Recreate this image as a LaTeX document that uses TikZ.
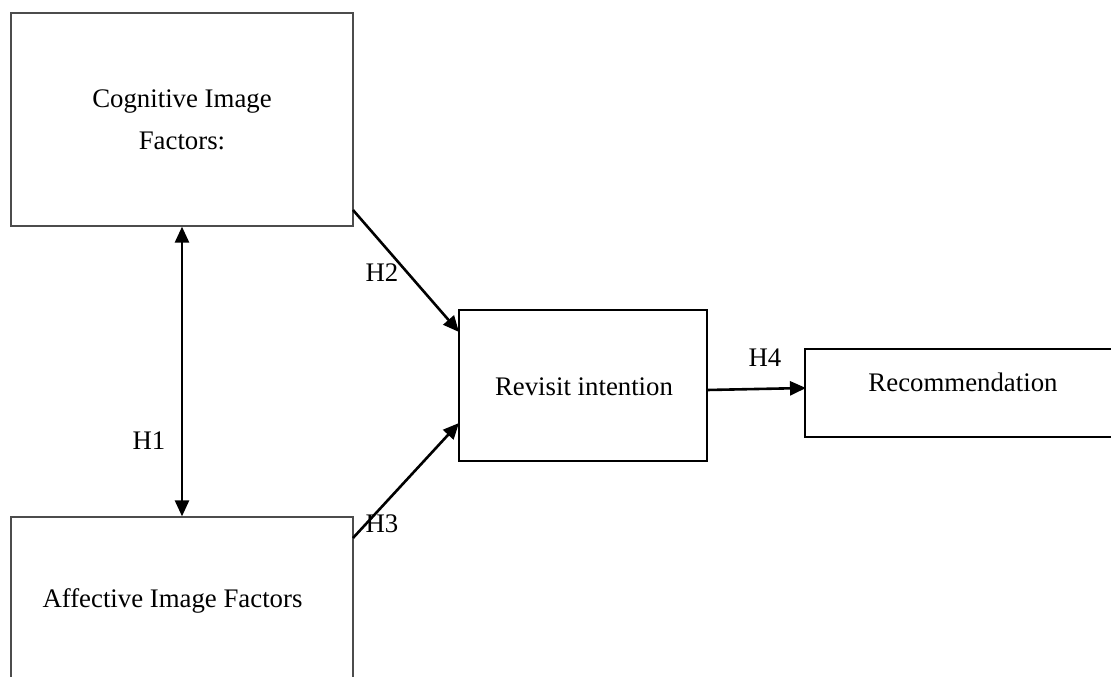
\documentclass[tikz,border=0pt]{standalone}
\usepackage{fontspec}
\setmainfont{Liberation Serif}
\usetikzlibrary{arrows.meta}
\begin{document}
\begin{tikzpicture}[x=1pt,y=-1pt,
  txt/.style={font=\fontsize{26.8}{42}\selectfont, inner sep=0pt, align=center},
  thinbox/.style={draw=black!70, line width=1.3pt, inner sep=0pt},
  boldbox/.style={draw=black, line width=2pt, inner sep=0pt},
  tip/.style={Triangle[length=16pt,width=14pt]},
  link/.style={line width=2.6pt, -{Triangle[length=16pt,width=14pt]}},
  both/.style={line width=2.6pt, {Triangle[length=16pt,width=14pt]}-{Triangle[length=16pt,width=14pt]}}]
\useasboundingbox (0,0) rectangle (1111,677);
% boxes, given by their corners
\node[thinbox, minimum width=342pt, minimum height=213pt] (cog) at (182,119.5) {};
\node[thinbox, minimum width=342pt, minimum height=180pt] (aff) at (182,607) {};
\node[boldbox, minimum width=248pt, minimum height=151pt] (rev) at (583,385) {};
\node[boldbox, minimum width=310pt, minimum height=88pt] (rec) at (960,393) {};
% box texts
\node[txt] (cogt) at (182,120) {Cognitive Image\\Factors:};
\node[txt] (afft) at (172.5,601) {Affective Image Factors};
\node[txt] (revt) at (584,387) {Revisit intention};
\node[txt] (rect) at (963,382) {Recommendation};
% connectors
\coordinate (h2s) at (353,210);
\coordinate (h2e) at (459,332);
\coordinate (h3s) at (353,538);
\coordinate (h3e) at (459,423);
\coordinate (h4s) at (707,390);
\coordinate (h4e) at (806,388);
\draw[both] (cog.south) -- (aff.north);
\draw[link] (h2s) -- (h2e);
\draw[link] (h3s) -- (h3e);
\draw[link] (h4s) -- (h4e);
% hypothesis labels
\node[txt] (h1) at (149,441) {H1};
\node[txt] (h2) at (382,273) {H2};
\node[txt] (h3) at (382,524) {H3};
\node[txt] (h4) at (765,358) {H4};
\end{tikzpicture}
\end{document}
